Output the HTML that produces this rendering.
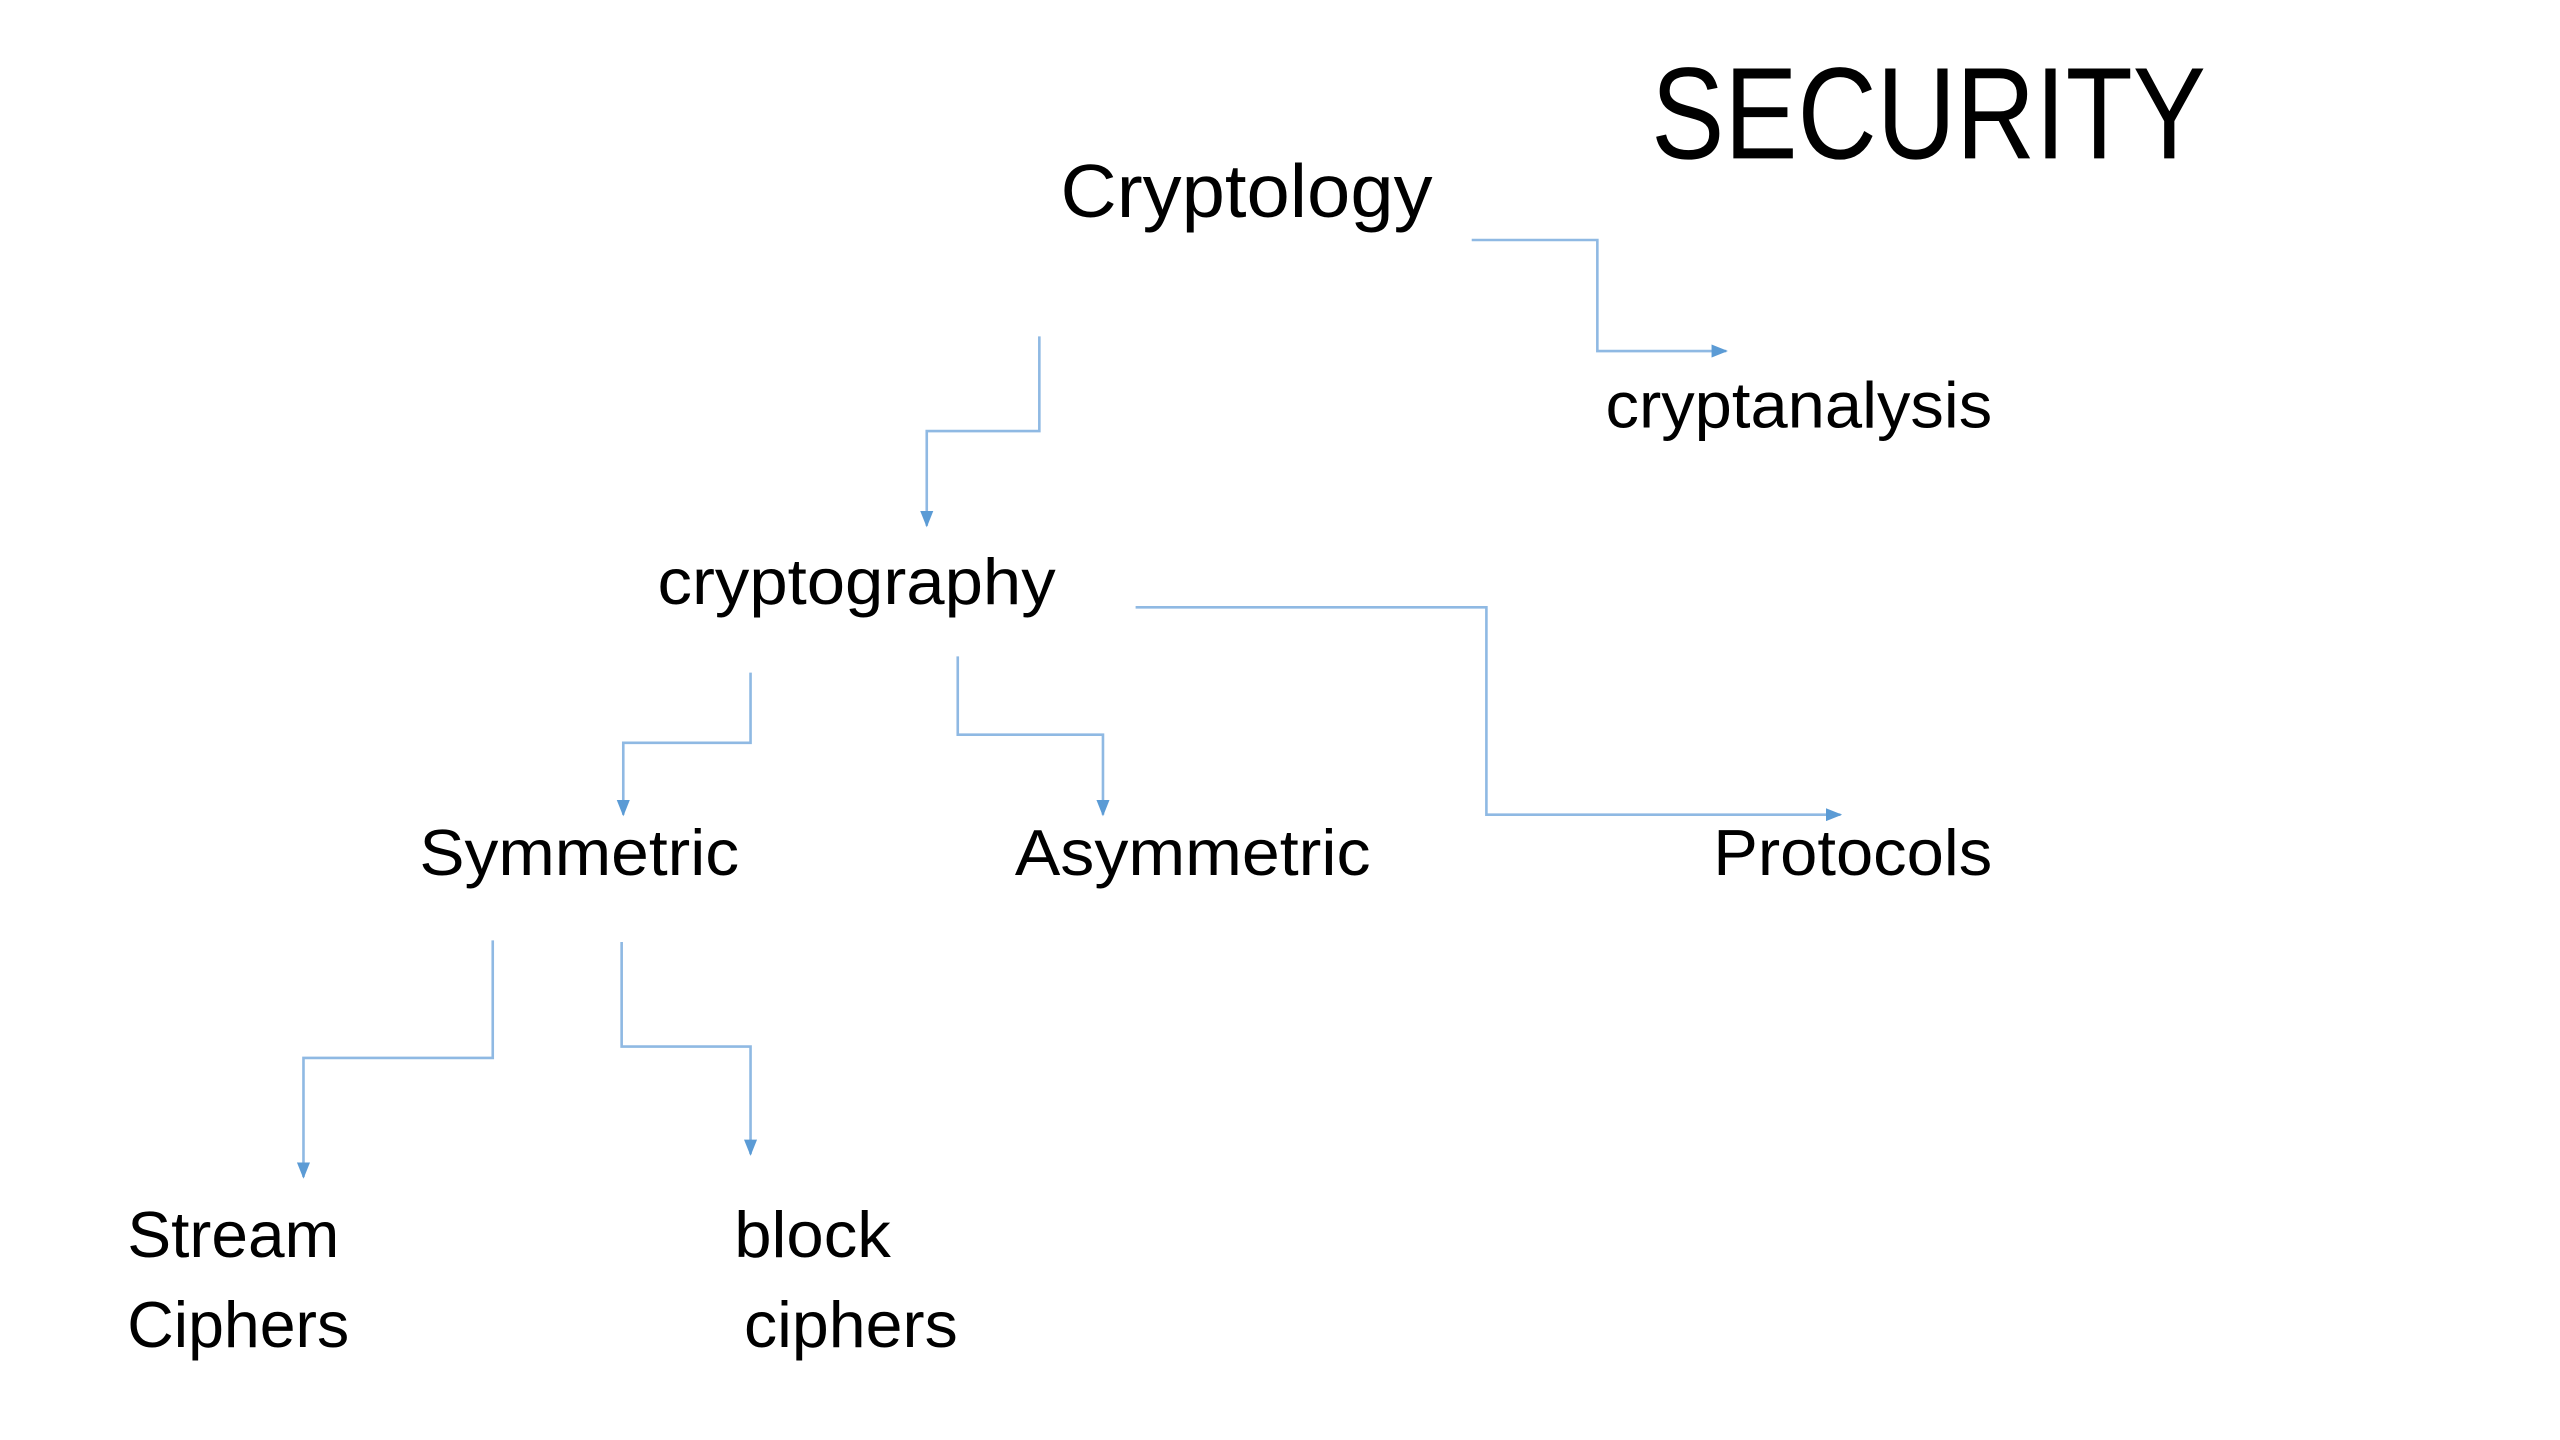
<!DOCTYPE html>
<html><head><meta charset="utf-8"><style>
html,body{margin:0;padding:0;background:#fff;width:2560px;height:1440px;overflow:hidden}
svg{display:block}
text{font-family:"Liberation Sans",sans-serif;fill:#000}
</style></head><body>
<svg width="2560" height="1440" viewBox="0 0 1569 882" preserveAspectRatio="none" xmlns="http://www.w3.org/2000/svg">
<defs><marker id="a" markerWidth="10" markerHeight="8" refX="9" refY="4" orient="auto" markerUnits="userSpaceOnUse"><path d="M0,0 L10,4 L0,8 z" fill="#5b9bd5"/></marker></defs>
<g fill="none" stroke="#8fb9e3" stroke-width="1.6" marker-end="url(#a)">
<polyline points="902,147 979,147 979,215 1058,215"/>
<polyline points="637,206 637,264 568,264 568,322"/>
<polyline points="460,412 460,455 382,455 382,499"/>
<polyline points="587,402 587,450 676,450 676,499"/>
<polyline points="696,372 911,372 911,499 1128,499"/>
<polyline points="302,576 302,648 186,648 186,721"/>
<polyline points="381,577 381,641 460,641 460,707"/>
</g>
<text x="1012" y="97" font-size="80" textLength="340" lengthAdjust="spacingAndGlyphs">SECURITY</text>
<text x="650" y="133" font-size="46" textLength="228" lengthAdjust="spacingAndGlyphs">Cryptology</text>
<text x="984" y="262" font-size="40" textLength="237" lengthAdjust="spacingAndGlyphs">cryptanalysis</text>
<text x="403" y="370" font-size="40" textLength="244" lengthAdjust="spacingAndGlyphs">cryptography</text>
<text x="257" y="536" font-size="40" textLength="196" lengthAdjust="spacingAndGlyphs">Symmetric</text>
<text x="622" y="536" font-size="40" textLength="218" lengthAdjust="spacingAndGlyphs">Asymmetric</text>
<text x="1050" y="536" font-size="40" textLength="171" lengthAdjust="spacingAndGlyphs">Protocols</text>
<text x="78" y="770" font-size="40" textLength="130" lengthAdjust="spacingAndGlyphs">Stream</text>
<text x="78" y="825" font-size="40" textLength="136" lengthAdjust="spacingAndGlyphs">Ciphers</text>
<text x="450" y="770" font-size="40" textLength="96" lengthAdjust="spacingAndGlyphs">block</text>
<text x="456" y="825" font-size="40" textLength="131" lengthAdjust="spacingAndGlyphs">ciphers</text>
</svg>
</body></html>
